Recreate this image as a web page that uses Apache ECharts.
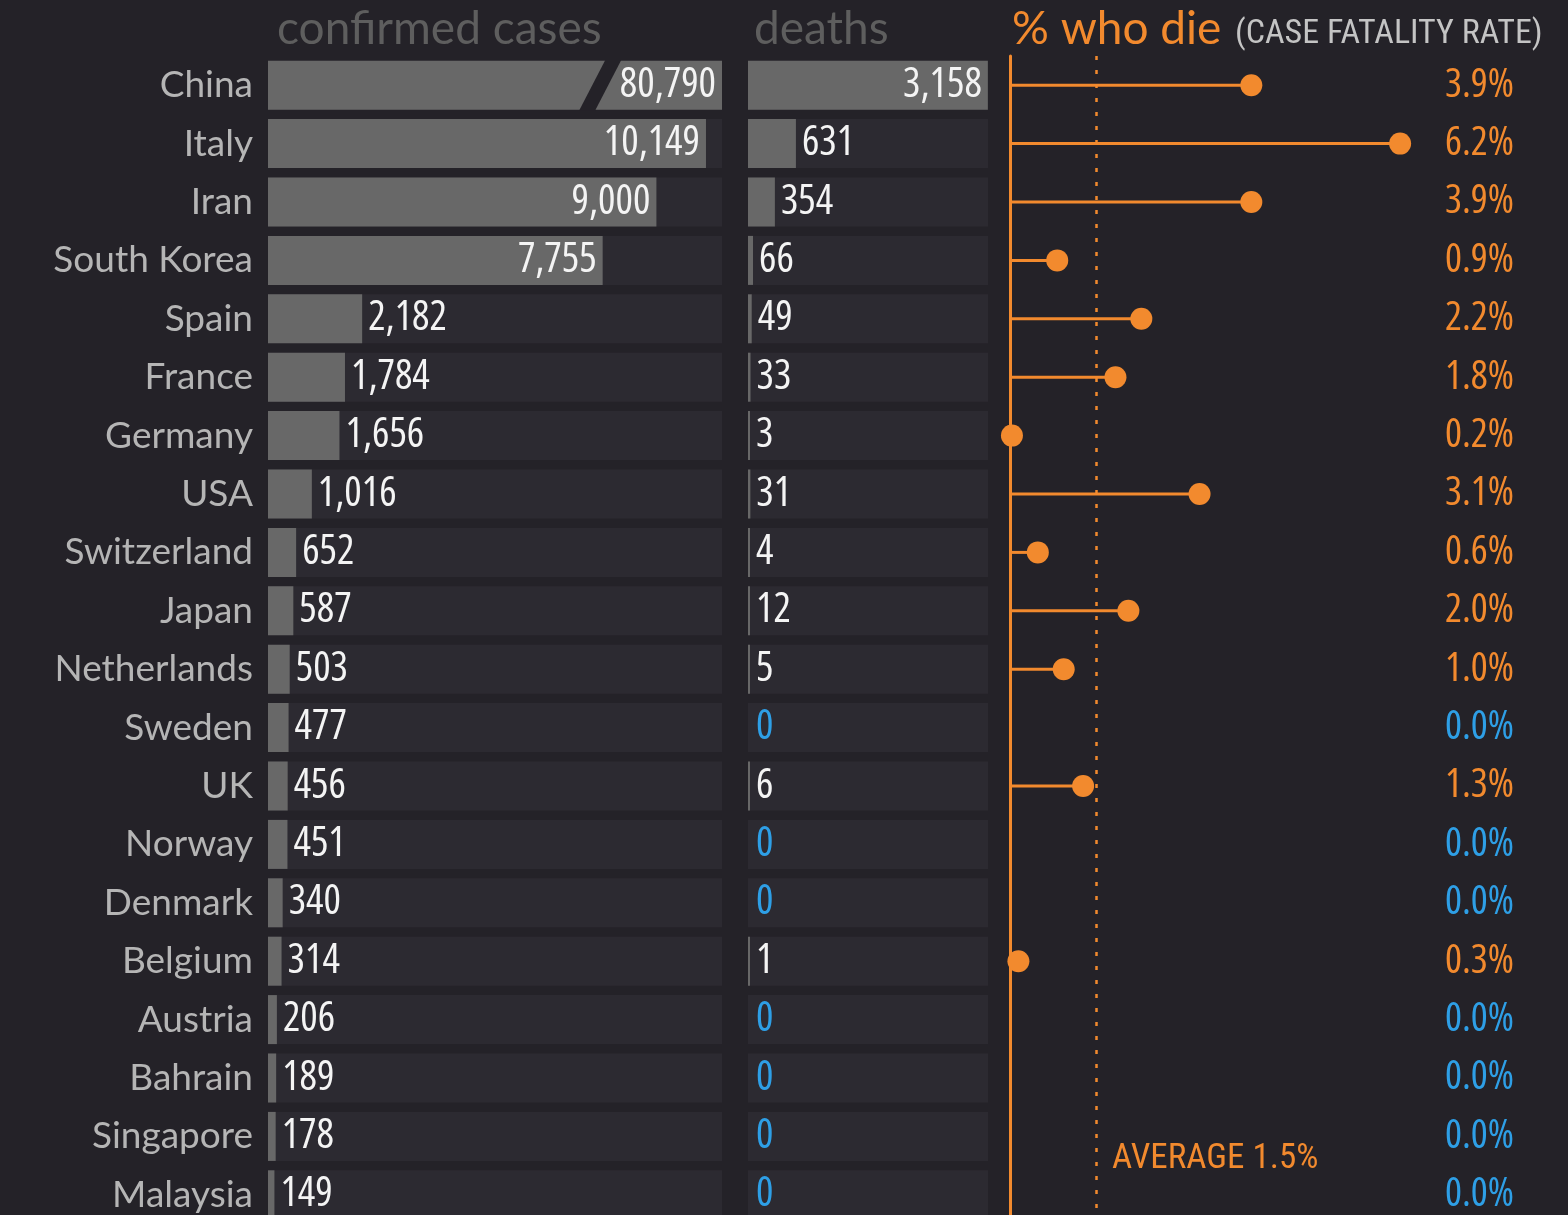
<!DOCTYPE html>
<html><head><meta charset="utf-8">
<script src="https://cdn.jsdelivr.net/npm/echarts@6/dist/echarts.min.js"></script>
<style>html,body{margin:0;padding:0;background:#242228;overflow:hidden;}#c{width:1568px;height:1245px;}</style>
</head><body><div id="c"></div>
<script>
const countries = ['China','Italy','Iran','South Korea','Spain','France','Germany','USA','Switzerland','Japan','Netherlands','Sweden','UK','Norway','Denmark','Belgium','Austria','Bahrain','Singapore','Malaysia'];
const cases = [80790,10149,9000,7755,2182,1784,1656,1016,652,587,503,477,456,451,340,314,206,189,178,149];
const deaths = [3158,631,354,66,49,33,3,31,4,12,5,0,6,0,0,1,0,0,0,0];
const cfr = [3.9,6.2,3.9,0.9,2.2,1.8,0.2,3.1,0.6,2.0,1.0,0.0,1.3,0.0,0.0,0.3,0.0,0.0,0.0,0.0];
const cfrAverage = 1.5;
const casesAxisMax = 10520;   // axis is broken: larger values are capped with a slash
const casesBreakAt = 7700;
const deathsAxisMax = 3160;
const cfrAxisMin = 0.17, cfrAxisMax = 6.6;

const BG = '#242228', TRACK = '#2c2a31', BAR = '#686868';
const ORANGE = '#f28a2e', BLUE = '#2e9fe6', WHITE = '#f4f4f4';
const NUM = "'Open Sans','Roboto Condensed',sans-serif";
const NUMW = 'condensed';
const COND = "'Roboto Condensed','Open Sans',sans-serif";
const NAME = "Lato, 'Noto Sans', sans-serif";

const chart = echarts.init(document.getElementById('c'), null, {renderer:'canvas'});
const gridTop = 56, gridH = 1168;
const fmt = v => v.toLocaleString('en-US');

const casesData = cases.map(v => ({
  value: Math.min(v, casesAxisMax),
  label: { position: v > 5000 ? 'insideRight' : 'right' }
}));
const deathsData = deaths.map(v => ({
  value: v,
  itemStyle: { color: v === 0 ? 'rgba(0,0,0,0)' : BAR },
  label: { position: v > 1000 ? 'insideRight' : 'right', color: v === 0 ? BLUE : WHITE }
}));

const catAxis = (gi, extra) => Object.assign({
  type:'category', gridIndex: gi, data: countries, inverse: true,
  axisLine:{show:false}, axisTick:{show:false}, axisLabel:{show:false}, splitLine:{show:false}
}, extra || {});

const option = {
  backgroundColor: BG,
  animation: false,
  title: [
    { text:'confirmed cases', left: 272, top: 1, textStyle:{ color:'#5e5e5e', fontSize:46, fontWeight:'normal', fontFamily: NAME } },
    { text:'deaths', left: 749, top: 1, textStyle:{ color:'#5e5e5e', fontSize:46, fontWeight:'normal', fontFamily: NAME } },
    { text:'% who die', left: 1007, top: 1, textStyle:{ color: ORANGE, fontSize:46, fontWeight:'normal', fontFamily: NAME } },
    { text:'(CASE FATALITY RATE)', left: 1230, top: 12, textStyle:{ color:'#c4c4c4', fontSize:34, fontWeight:'normal', fontFamily: COND } }
  ],
  grid: [
    { left: 268, top: gridTop, width: 454, height: gridH },
    { left: 748, top: gridTop, width: 240, height: gridH },
    { left: 1010, top: gridTop, width: 416, height: gridH }
  ],
  xAxis: [
    { type:'value', gridIndex:0, min:0, max:casesAxisMax, show:false },
    { type:'value', gridIndex:1, min:0, max:deathsAxisMax, show:false },
    { type:'value', gridIndex:2, min:cfrAxisMin, max:cfrAxisMax, show:false }
  ],
  yAxis: [
    catAxis(0, { axisLabel:{ show:true, color:'#b5b5b5', fontSize:37, fontFamily: NAME, margin:15 } }),
    catAxis(1),
    catAxis(2, { axisLine:{ show:true, lineStyle:{ color: ORANGE, width:3 } } }),
    catAxis(2, { position:'right', axisLabel:{ show:true, margin:19,
      formatter: (v, i) => (cfr[i] === 0 ? '{z|' : '{p|') + cfr[i].toFixed(1) + '%}',
      rich:{ p:{ color: ORANGE, fontSize:40, fontWeight: NUMW, fontFamily: NUM },
             z:{ color: BLUE, fontSize:40, fontWeight: NUMW, fontFamily: NUM } } } })
  ],
  series: [
    { type:'bar', xAxisIndex:0, yAxisIndex:0, data: casesData, barWidth: 49,
      itemStyle:{ color: BAR }, showBackground:true, backgroundStyle:{ color: TRACK },
      label:{ show:true, color: WHITE, fontSize:41, fontWeight: NUMW, fontFamily: NUM, distance:6,
        formatter: p => fmt(cases[p.dataIndex]) } },
    { type:'custom', xAxisIndex:0, yAxisIndex:0, z: 5,
      data: cases.map((v, i) => v > casesAxisMax ? [casesBreakAt, countries[i]] : null).filter(Boolean),
      renderItem: (params, api) => {
        const c = api.coord([api.value(0), api.value(1)]);
        const h = api.size([0, 1])[1] * 0.86;
        const s = 13, g = 8;
        return { type:'polygon', shape:{ points:[
          [c[0] + s - g, c[1] - h/2], [c[0] + s + g, c[1] - h/2],
          [c[0] - s + g, c[1] + h/2], [c[0] - s - g, c[1] + h/2] ] },
          style:{ fill: BG } };
      } },
    { type:'bar', xAxisIndex:1, yAxisIndex:1, data: deathsData, barWidth: 49,
      barMinHeight: 2,
      showBackground:true, backgroundStyle:{ color: TRACK },
      label:{ show:true, fontSize:41, fontWeight: NUMW, fontFamily: NUM, distance:6,
        formatter: p => fmt(deaths[p.dataIndex]) } },
    { type:'bar', xAxisIndex:2, yAxisIndex:2, data: cfr, barWidth: 3, clip: true,
      itemStyle:{ color: ORANGE },
      markLine:{ silent:true, symbol:'none', label:{show:false},
        lineStyle:{ color: ORANGE, type:[4,10], width:2.5 },
        data:[{ xAxis: cfrAverage }] } },
    { type:'scatter', xAxisIndex:2, yAxisIndex:2, data: cfr, clip: false,
      symbolSize: v => v > 0 ? 22 : 0, itemStyle:{ color: ORANGE, opacity:1 }, z: 4,
      markPoint:{ silent:true, symbol:'circle', symbolSize:0,
        data:[{ coord:[cfrAverage, 'Singapore'] }],
        label:{ show:true, position:'right', distance: 0, offset:[16, 23], color: ORANGE, fontSize:35, fontWeight:'normal', fontFamily: COND,
          formatter: () => 'AVERAGE ' + cfrAverage + '%' } } }
  ]
};
chart.setOption(option);
</script>
</body></html>
